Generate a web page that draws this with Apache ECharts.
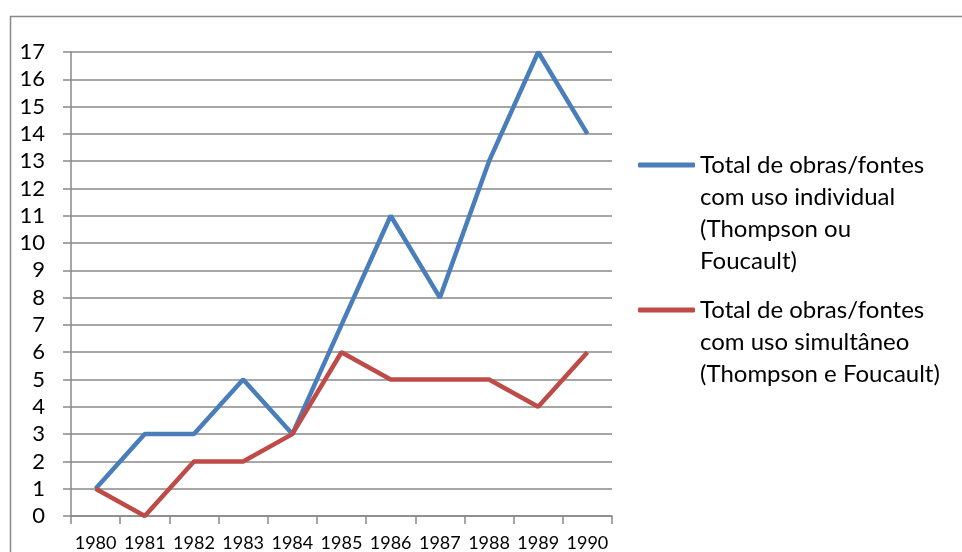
<!DOCTYPE html>
<html>
<head>
<meta charset="utf-8">
<script src="https://cdn.jsdelivr.net/npm/echarts@6/dist/echarts.min.js"></script>
<style>
  html, body { margin: 0; padding: 0; background: #fff; }
  #chart { width: 962px; height: 552px; }
</style>
</head>
<body>
<div id="chart"></div>
<script>
var years = ['1980', '1981', '1982', '1983', '1984', '1985', '1986', '1987', '1988', '1989', '1990'];
var individual = [1, 3, 3, 5, 3, 7, 11, 8, 13, 17, 14];
var simultaneo = [1, 0, 2, 2, 3, 6, 5, 5, 5, 4, 6];
var nameIndividual = 'Total de obras/fontes\ncom uso individual\n(Thompson ou\nFoucault)';
var nameSimultaneo = 'Total de obras/fontes\ncom uso simultâneo\n(Thompson e Foucault)';

var chartDom = document.getElementById('chart');
var myChart = echarts.init(chartDom);
var option;

var gray = '#898989';
var font = 'Lato, "Open Sans", sans-serif';

// legend text is centred on the icon, so pad with blank lines on top
// to bring the icon level with the first line
function topAligned(name) {
	var n = name.split('\n').length;
	return new Array(n).join('\n') + name;
}

option = {
	animation: false,
	textStyle: { fontFamily: font },
	graphic: [
		{
			type: 'rect',
			shape: { x: 10.5, y: 16.5, width: 1000, height: 600 },
			style: { fill: null, stroke: gray, lineWidth: 1.5 },
			silent: true
		}
	],
	grid: {
		left: 71,
		right: 350,
		top: 52,
		bottom: 34
	},
	legend: [
		{
			data: [nameIndividual],
			orient: 'vertical',
			left: 638,
			top: 53,
			padding: 0,
			itemWidth: 57,
			itemHeight: 5,
			icon: 'roundRect',
			formatter: topAligned,
			textStyle: {
				fontFamily: font,
				fontSize: 24,
				color: '#000',
				lineHeight: 32
			}
		},
		{
			data: [nameSimultaneo],
			orient: 'vertical',
			left: 638,
			top: 230,
			padding: 0,
			itemWidth: 57,
			itemHeight: 5,
			icon: 'roundRect',
			formatter: topAligned,
			textStyle: {
				fontFamily: font,
				fontSize: 24,
				color: '#000',
				lineHeight: 32
			}
		}
	],
	xAxis: {
		type: 'category',
		data: years,
		boundaryGap: true,
		axisLine: { lineStyle: { color: gray, width: 1.5 } },
		axisTick: { show: true, length: 8, lineStyle: { color: gray, width: 1.5 } },
		axisLabel: { color: '#000', fontSize: 18, margin: 18, interval: 0 },
		splitLine: { show: false }
	},
	yAxis: {
		type: 'value',
		min: 0,
		max: 17,
		interval: 1,
		axisLine: { show: true, lineStyle: { color: gray, width: 1.5 } },
		axisTick: { show: true, length: 8, lineStyle: { color: gray, width: 1.5 } },
		axisLabel: { color: '#000', fontSize: 22, margin: 26 },
		splitLine: { show: true, lineStyle: { color: gray, width: 1.5 } }
	},
	series: [
		{
			name: nameIndividual,
			type: 'line',
			data: individual,
			symbol: 'none',
			itemStyle: { color: '#4A7EBB' },
			lineStyle: { color: '#4A7EBB', width: 4.5 }
		},
		{
			name: nameSimultaneo,
			type: 'line',
			data: simultaneo,
			symbol: 'none',
			itemStyle: { color: '#BE4B48' },
			lineStyle: { color: '#BE4B48', width: 4.5 }
		}
	]
};

option && myChart.setOption(option);
</script>
</body>
</html>
